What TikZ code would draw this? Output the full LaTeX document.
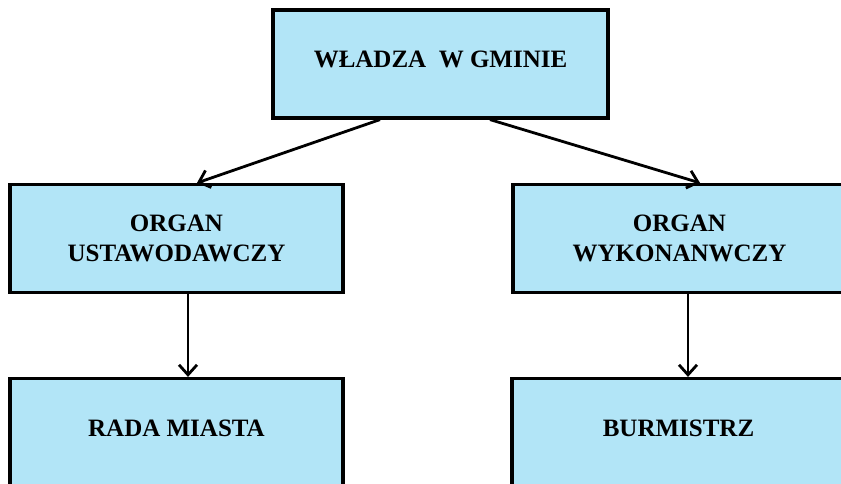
\documentclass[tikz,border=0pt]{standalone}
\usepackage{fontspec}
\setmainfont{Liberation Serif}
\usetikzlibrary{arrows.meta}
\definecolor{boxblue}{RGB}{178,229,247}

\begin{document}
\begin{tikzpicture}[x=1pt,y=-1pt,
  box/.style={draw=black,line width=3.2pt,fill=boxblue,minimum width=333pt,
    minimum height=108pt,inner sep=0pt,align=center,
    font=\fontsize{25}{30}\selectfont\bfseries},
  single/.style={text depth=9pt},
  link/.style={line width=2.8pt,-{Straight Barb[length=10pt,width=18pt,line width=2.8pt]}}]
  \useasboundingbox (0,0) rectangle (841,483);
  \clip (0,0) rectangle (841,483);

  \node[box,single,minimum width=335pt] (wladza) at (440.5,64) {WŁADZA\ \ W GMINIE};
  \node[box] (ustaw) at (176.5,238.5) {ORGAN\\USTAWODAWCZY};
  \node[box] (wykon) at (679.5,238.5) {ORGAN\\WYKONANWCZY};
  \node[box,single] (rada) at (176.5,432.5) {RADA MIASTA};
  \node[box,single] (burm) at (678.5,432.5) {BURMISTRZ};

  \draw[link] ([xshift=-60.5pt]wladza.south) -- ([xshift=20.5pt]ustaw.north);
  \draw[link] ([xshift=49.5pt]wladza.south) -- ([xshift=20.5pt]wykon.north);
  \draw[link] ([xshift=11.5pt]ustaw.south) -- ([xshift=11.5pt]rada.north);
  \draw[link] ([xshift=8.5pt]wykon.south) -- ([xshift=9.5pt]burm.north);
\end{tikzpicture}
\end{document}
